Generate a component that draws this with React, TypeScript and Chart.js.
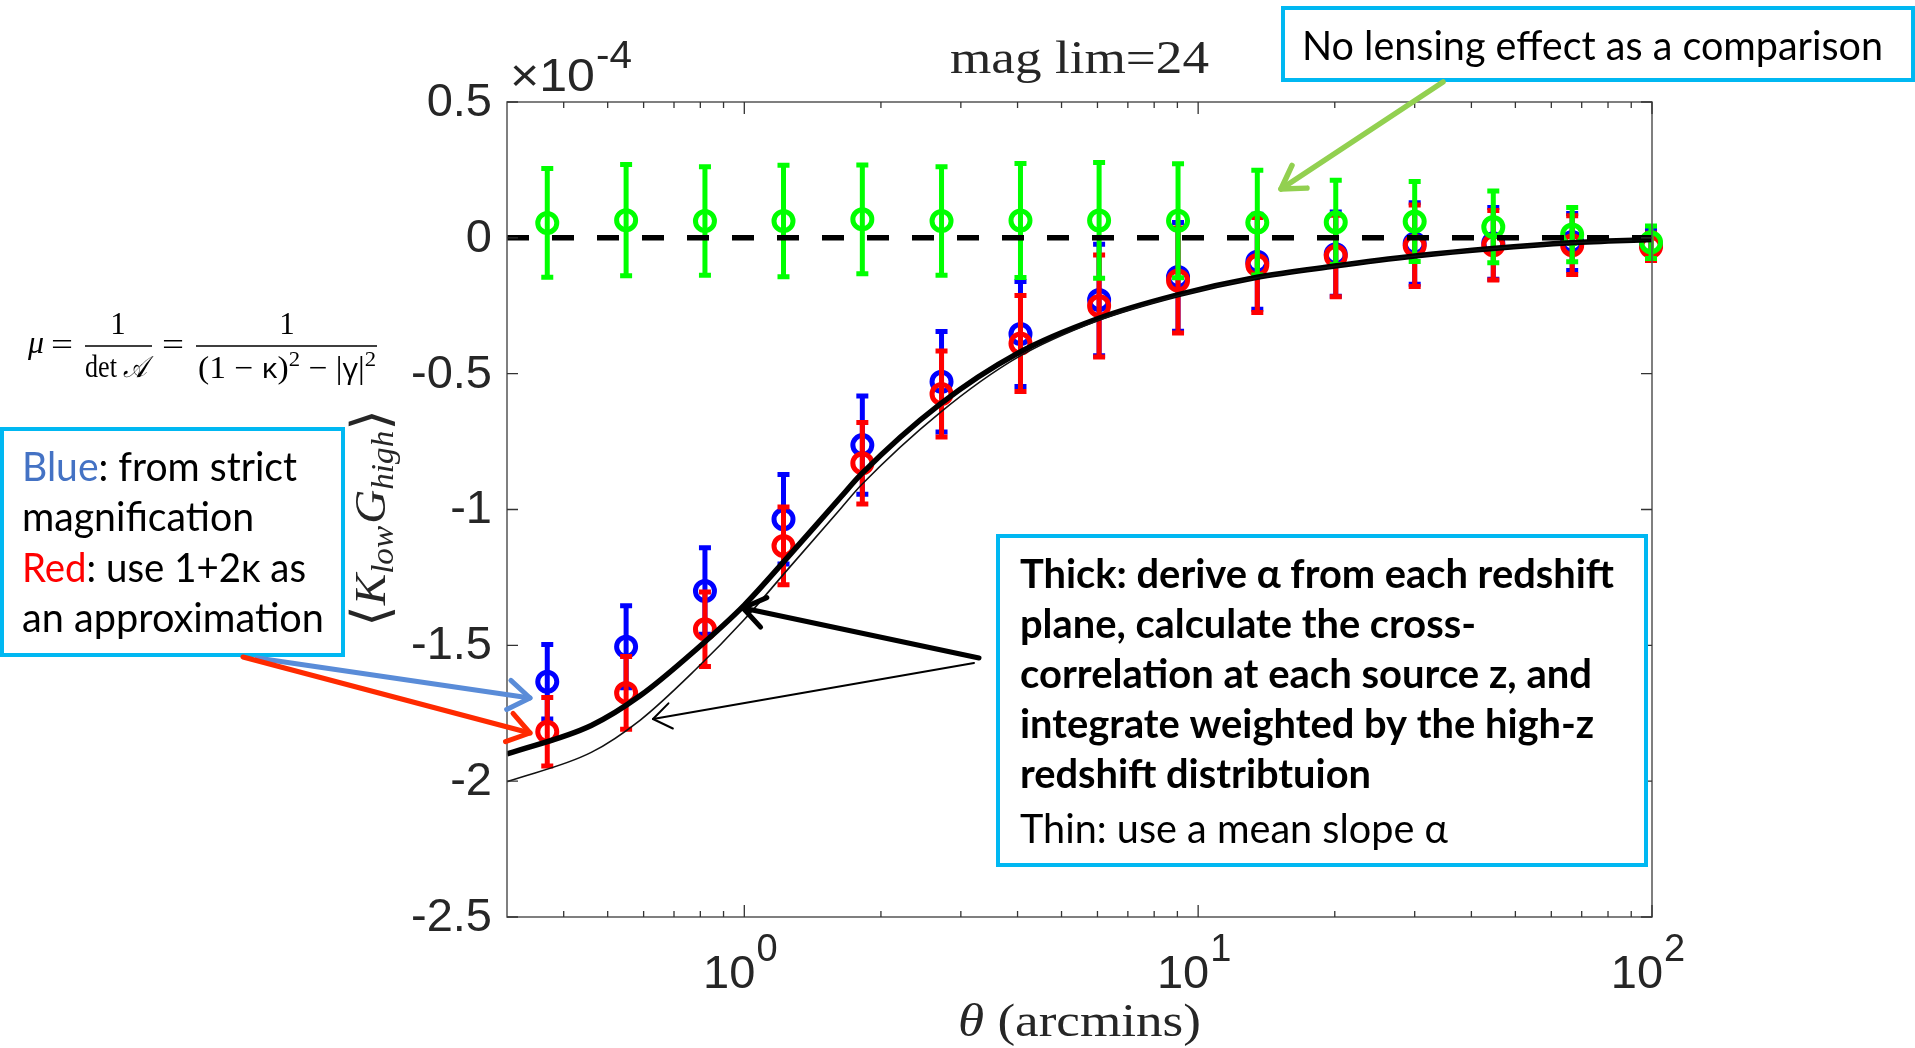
import React, { useEffect, useRef } from 'react';
import { Chart, registerables } from 'chart.js';

Chart.register(...registerables);

// ---------------- data (units of 1e-4) ----------------
const thetaBins = [0.368, 0.549, 0.819, 1.22, 1.82, 2.72, 4.06, 6.05, 9.03, 13.5, 20.1, 30.0, 44.7, 66.7, 99.5];
const blueVals = [-1.634, -1.505, -1.3, -1.036, -0.763, -0.53, -0.354, -0.229, -0.144, -0.088, -0.06, -0.021, -0.02, -0.015, -0.025];
const blueErr = [0.137, 0.151, 0.159, 0.165, 0.181, 0.185, 0.193, 0.205, 0.2, 0.175, 0.155, 0.15, 0.132, 0.105, 0.055];
const redVals = [-1.818, -1.675, -1.441, -1.134, -0.83, -0.575, -0.389, -0.251, -0.157, -0.1, -0.067, -0.029, -0.027, -0.027, -0.033];
const redErr = [0.126, 0.134, 0.137, 0.143, 0.15, 0.158, 0.177, 0.188, 0.193, 0.175, 0.15, 0.15, 0.128, 0.108, 0.05];
const greenVals = [0.055, 0.065, 0.062, 0.062, 0.068, 0.062, 0.064, 0.064, 0.063, 0.056, 0.057, 0.06, 0.04, 0.012, -0.016];
const greenErr = [0.2, 0.205, 0.2, 0.205, 0.2, 0.2, 0.21, 0.213, 0.21, 0.193, 0.155, 0.147, 0.132, 0.1, 0.06];

const curveX = [0.3, 0.46, 0.59, 0.78, 1.0, 1.24, 1.63, 1.81, 2.7, 4.0, 6.0, 9.0, 13.4, 20, 30, 44.5, 66.4, 100];
const thickY = [-1.9, -1.795, -1.685, -1.518, -1.352, -1.18, -0.955, -0.87, -0.612, -0.425, -0.298, -0.21, -0.146, -0.104, -0.067, -0.039, -0.018, -0.006];
const thinY = [-2.002, -1.894, -1.775, -1.59, -1.405, -1.225, -0.997, -0.91, -0.643, -0.44, -0.305, -0.214, -0.148, -0.105, -0.068, -0.04, -0.019, -0.007];

const zeroX = [0.3, 100];
const zeroY = [0, 0];

const yTickVals = [0.5, 0, -0.5, -1, -1.5, -2, -2.5];
const yTickLabels = ['0.5', '0', '-0.5', '-1', '-1.5', '-2', '-2.5'];
const xMajorVals = [1, 10, 100];
const xMajorExp = ['0', '1', '2'];
const xMinorVals = [0.4, 0.5, 0.6, 0.7, 0.8, 0.9, 2, 3, 4, 5, 6, 7, 8, 9, 20, 30, 40, 50, 60, 70, 80, 90];

// ---------------- helpers ----------------
type Run = { t: string; f: string; c?: string; dy?: number; dx?: number };

function runsWidth(ctx: CanvasRenderingContext2D, runs: Run[]) {
  let w = 0;
  for (const r of runs) {
    ctx.font = r.f;
    w += ctx.measureText(r.t).width + (r.dx || 0);
  }
  return w;
}

function drawRuns(
  ctx: CanvasRenderingContext2D,
  runs: Run[],
  x: number,
  y: number,
  opts: { w?: number; align?: 'left' | 'center' | 'right'; color?: string } = {}
) {
  ctx.save();
  ctx.textAlign = 'left';
  ctx.textBaseline = 'alphabetic';
  const nat = runsWidth(ctx, runs);
  const sx = opts.w ? opts.w / nat : 1;
  const total = nat * sx;
  let x0 = x;
  if (opts.align === 'center') x0 = x - total / 2;
  else if (opts.align === 'right') x0 = x - total;
  ctx.translate(x0, y);
  ctx.scale(sx, 1);
  let cx = 0;
  for (const r of runs) {
    ctx.font = r.f;
    ctx.fillStyle = r.c || opts.color || '#000';
    cx += r.dx || 0;
    ctx.fillText(r.t, cx, r.dy || 0);
    cx += ctx.measureText(r.t).width;
  }
  ctx.restore();
}

function arrow(
  ctx: CanvasRenderingContext2D,
  x1: number, y1: number, x2: number, y2: number,
  color: string, width: number, head: number, ang = 0.6
) {
  ctx.save();
  ctx.strokeStyle = color;
  ctx.lineWidth = width;
  ctx.lineCap = 'round';
  ctx.lineJoin = 'round';
  ctx.beginPath();
  ctx.moveTo(x1, y1);
  ctx.lineTo(x2, y2);
  ctx.stroke();
  const a = Math.atan2(y2 - y1, x2 - x1);
  ctx.beginPath();
  ctx.moveTo(x2 - head * Math.cos(a - ang), y2 - head * Math.sin(a - ang));
  ctx.lineTo(x2, y2);
  ctx.lineTo(x2 - head * Math.cos(a + ang), y2 - head * Math.sin(a + ang));
  ctx.stroke();
  ctx.restore();
}

function box(ctx: CanvasRenderingContext2D, x: number, y: number, w: number, h: number) {
  ctx.save();
  ctx.fillStyle = '#fff';
  ctx.fillRect(x, y, w, h);
  ctx.strokeStyle = '#00B8F2';
  ctx.lineWidth = 4;
  ctx.strokeRect(x, y, w, h);
  ctx.restore();
}

const TICK_FONT = '47px "Liberation Sans", Arial, sans-serif';
const TICK_SUP = '38px "Liberation Sans", Arial, sans-serif';
const SERIF = '"Liberation Serif", "DejaVu Serif", serif';
const BOX_R = '41px Lato, "Open Sans", sans-serif';
const BOX_B = 'bold 41px Lato, "Open Sans", sans-serif';

const overlayPlugin = {
  id: 'overlay',
  beforeDatasetDraw(chart: any, args: any) {
    const ds = chart.data.datasets[args.index];
    if (!ds.errs) return;
    const ctx: CanvasRenderingContext2D = chart.ctx;
    const xs = chart.scales.x;
    const ys = chart.scales.y;
    ctx.save();
    ctx.strokeStyle = ds.pointBorderColor;
    ctx.lineWidth = 5;
    ctx.lineCap = 'butt';
    ds.data.forEach((p: any, i: number) => {
      const px = xs.getPixelForValue(p.x);
      const yt = ys.getPixelForValue(p.y + ds.errs[i]);
      const yb = ys.getPixelForValue(p.y - ds.errs[i]);
      ctx.beginPath();
      ctx.moveTo(px, yt);
      ctx.lineTo(px, yb);
      ctx.moveTo(px - 6, yt);
      ctx.lineTo(px + 6, yt);
      ctx.moveTo(px - 6, yb);
      ctx.lineTo(px + 6, yb);
      ctx.stroke();
    });
    ctx.restore();
  },
  afterDraw(chart: any) {
    const ctx: CanvasRenderingContext2D = chart.ctx;
    const xs = chart.scales.x;
    const ys = chart.scales.y;
    const { left, right, top, bottom } = chart.chartArea;

    // axes box
    ctx.save();
    ctx.strokeStyle = '#555';
    ctx.lineWidth = 1.5;
    ctx.strokeRect(left, top, right - left, bottom - top);
    ctx.lineWidth = 1.3;
    ctx.strokeStyle = '#333';
    ctx.beginPath();
    for (const v of yTickVals) {
      const py = ys.getPixelForValue(v);
      ctx.moveTo(left, py); ctx.lineTo(left + 11, py);
      ctx.moveTo(right, py); ctx.lineTo(right - 11, py);
    }
    for (const v of xMajorVals) {
      const px = xs.getPixelForValue(v);
      ctx.moveTo(px, bottom); ctx.lineTo(px, bottom - 12);
      ctx.moveTo(px, top); ctx.lineTo(px, top + 12);
    }
    for (const v of xMinorVals) {
      const px = xs.getPixelForValue(v);
      ctx.moveTo(px, bottom); ctx.lineTo(px, bottom - 6);
      ctx.moveTo(px, top); ctx.lineTo(px, top + 6);
    }
    ctx.stroke();
    ctx.restore();

    // y tick labels
    ctx.save();
    ctx.font = TICK_FONT;
    ctx.fillStyle = '#262626';
    ctx.textAlign = 'right';
    ctx.textBaseline = 'middle';
    yTickVals.forEach((v, i) => {
      ctx.fillText(yTickLabels[i], left - 15, ys.getPixelForValue(v) + 1);
    });
    ctx.restore();

    // x tick labels 10^n
    xMajorVals.forEach((v, i) => {
      const px = xs.getPixelForValue(v);
      drawRuns(ctx, [
        { t: '10', f: TICK_FONT },
        { t: xMajorExp[i], f: TICK_SUP, dy: -27, dx: 1 },
      ], px - 4, 988, { align: 'center', color: '#262626' });
    });

    // exponent multiplier
    drawRuns(ctx, [
      { t: '×10', f: TICK_FONT },
      { t: '-4', f: TICK_SUP, dy: -23, dx: 1 },
    ], 510, 91, { color: '#262626', w: 122 });

    // title
    drawRuns(ctx, [{ t: 'mag lim=24', f: '46px ' + SERIF }], (left + right) / 2, 73, { align: 'center', w: 259, color: '#262626' });

    // x label
    drawRuns(ctx, [
      { t: 'θ', f: 'italic 46px ' + SERIF },
      { t: ' (arcmins)', f: '46px ' + SERIF },
    ], (left + right) / 2, 1036, { align: 'center', w: 243, color: '#262626' });

    // y label (rotated)
    ctx.save();
    ctx.translate(385, 627);
    ctx.rotate(-Math.PI / 2);
    drawRuns(ctx, [
      { t: '⟨', f: '52px "DejaVu Serif", serif', dy: 3 },
      { t: 'K', f: 'italic 44px ' + SERIF },
      { t: 'low', f: 'italic 31px ' + SERIF, dy: 8 },
      { t: 'G', f: 'italic 44px ' + SERIF, dx: 2 },
      { t: 'high', f: 'italic 31px ' + SERIF, dy: 8 },
      { t: '⟩', f: '52px "DejaVu Serif", serif', dy: 3 },
    ], 0, 0, { w: 218, color: '#262626' });
    ctx.restore();

    // equation
    const EQ = '31px ' + SERIF;
    const EQS = '21px ' + SERIF;
    drawRuns(ctx, [{ t: 'μ', f: 'italic 32px ' + SERIF }], 28, 353, {});
    drawRuns(ctx, [{ t: '=', f: EQ }], 62, 355, { align: 'center', w: 22 });
    drawRuns(ctx, [{ t: '=', f: EQ }], 173, 355, { align: 'center', w: 22 });
    ctx.save();
    ctx.strokeStyle = '#000';
    ctx.lineWidth = 1.6;
    ctx.beginPath();
    ctx.moveTo(85, 346); ctx.lineTo(152, 346);
    ctx.moveTo(196, 346); ctx.lineTo(377, 346);
    ctx.stroke();
    ctx.restore();
    drawRuns(ctx, [{ t: '1', f: EQ }], 118, 334, { align: 'center' });
    drawRuns(ctx, [{ t: '1', f: EQ }], 287, 334, { align: 'center' });
    drawRuns(ctx, [
      { t: 'det ', f: EQ },
      { t: '𝒜', f: 'italic 30px "DejaVu Serif", "DejaVu Sans", serif' },
    ], 116, 377, { align: 'center', w: 62 });
    drawRuns(ctx, [
      { t: '(1 − ', f: EQ },
      { t: 'κ', f: '28px "Open Sans", sans-serif' },
      { t: ')', f: EQ },
      { t: '2', f: EQS, dy: -12 },
      { t: ' − |', f: EQ },
      { t: 'γ', f: '28px "Open Sans", sans-serif' },
      { t: '|', f: EQ },
      { t: '2', f: EQS, dy: -12 },
    ], 287, 378, { align: 'center', w: 178 });

    // annotation boxes
    box(ctx, 1283, 8, 630, 72);
    drawRuns(ctx, [{ t: 'No lensing effect as a comparison', f: BOX_R }], 1302, 60, { w: 581 });

    box(ctx, 2, 429, 341, 226);
    drawRuns(ctx, [{ t: 'Blue', f: BOX_R, c: '#4472C4' }, { t: ': from strict', f: BOX_R }], 22, 481, { w: 275 });
    drawRuns(ctx, [{ t: 'magnification', f: BOX_R }], 22, 531, { w: 232 });
    drawRuns(ctx, [{ t: 'Red', f: BOX_R, c: '#FF0000' }, { t: ': use 1+2κ as', f: BOX_R }], 22, 582, { w: 284 });
    drawRuns(ctx, [{ t: 'an approximation', f: BOX_R }], 22, 632, { w: 302 });

    box(ctx, 998, 536, 648, 329);
    drawRuns(ctx, [{ t: 'Thick: derive α from each redshift', f: BOX_B }], 1020, 588, { w: 594 });
    drawRuns(ctx, [{ t: 'plane, calculate the cross-', f: BOX_B }], 1020, 638, { w: 456 });
    drawRuns(ctx, [{ t: 'correlation at each source z, and', f: BOX_B }], 1020, 688, { w: 572 });
    drawRuns(ctx, [{ t: 'integrate weighted by the high-z', f: BOX_B }], 1020, 738, { w: 574 });
    drawRuns(ctx, [{ t: 'redshift distribtuion', f: BOX_B }], 1020, 788, { w: 351 });
    drawRuns(ctx, [{ t: 'Thin: use a mean slope α', f: BOX_R }], 1020, 843, { w: 428 });

    // arrows
    arrow(ctx, 1443, 82, 1281, 189, '#92D050', 5.5, 26, 0.55);
    arrow(ctx, 257, 658, 530, 698, '#5A8CD8', 5, 26, 0.6);
    arrow(ctx, 243, 657, 530, 733, '#FF2A00', 5, 26, 0.6);
    arrow(ctx, 979, 658, 743, 608, '#000', 5, 26, 0.62);
    arrow(ctx, 974, 663, 653, 719, '#000', 2, 22, 0.62);
  },
};

const toXY = (xs: number[], ys: number[]) => xs.map((x, i) => ({ x, y: ys[i] }));

const markerDs = (label: string, vals: number[], errs: number[], color: string, order: number) => ({
  type: 'scatter' as const,
  label,
  data: toXY(thetaBins, vals),
  errs,
  showLine: false,
  pointStyle: 'circle',
  pointRadius: 9.5,
  pointHoverRadius: 9.5,
  pointBorderWidth: 5,
  pointBackgroundColor: 'rgba(0,0,0,0)',
  pointBorderColor: color,
  borderColor: color,
  clip: false as const,
  order,
});

export default function App() {
  const ref = useRef<HTMLCanvasElement | null>(null);
  useEffect(() => {
    document.documentElement.style.overflow = 'hidden';
    const canvas = ref.current;
    if (!canvas) return;
    const chart = new Chart(canvas, {
      type: 'scatter',
      data: {
        datasets: [
          {
            type: 'line', label: 'zero', data: toXY(zeroX, zeroY), borderColor: '#000', borderWidth: 5.5,
            borderDash: [22, 23], pointRadius: 0, fill: false, order: 0,
          } as any,
          {
            type: 'line', label: 'thin', data: toXY(curveX, thinY), borderColor: '#111', borderWidth: 1.6,
            pointRadius: 0, fill: false, cubicInterpolationMode: 'monotone', order: 1,
          } as any,
          {
            type: 'line', label: 'thick', data: toXY(curveX, thickY), borderColor: '#000', borderWidth: 5.5,
            pointRadius: 0, fill: false, cubicInterpolationMode: 'monotone', order: 2,
          } as any,
          markerDs('no lensing', greenVals, greenErr, '#00FF00', 3) as any,
          markerDs('1+2κ', redVals, redErr, '#FF0000', 4) as any,
          markerDs('strict', blueVals, blueErr, '#0000FF', 5) as any,
        ],
      },
      options: {
        responsive: false,
        animation: false,
        devicePixelRatio: 1,
        events: [],
        layout: { padding: { left: 507, right: 263, top: 102, bottom: 131 } },
        scales: {
          x: { type: 'logarithmic', min: 0.3, max: 100, display: false },
          y: { type: 'linear', min: -2.5, max: 0.5, display: false },
        },
        plugins: { legend: { display: false }, tooltip: { enabled: false } },
      },
      plugins: [overlayPlugin],
    });
    return () => chart.destroy();
  }, []);
  return (
    <div style={{ position: 'absolute', left: 0, top: 0, width: 1915, height: 1048, background: '#fff' }}>
      <canvas ref={ref} width={1915} height={1048} style={{ display: 'block' }} />
    </div>
  );
}
